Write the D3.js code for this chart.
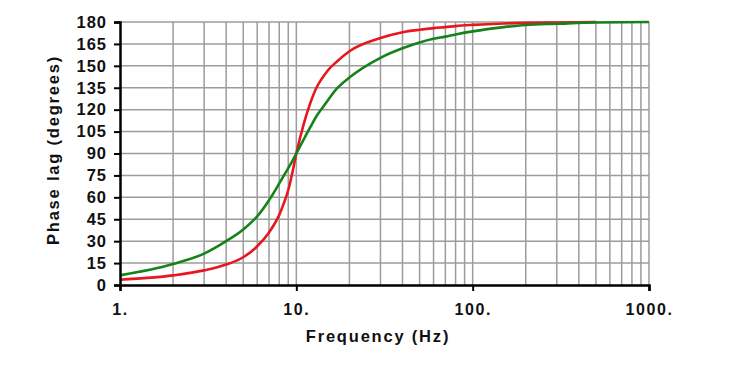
<!DOCTYPE html>
<html>
<head>
<meta charset="utf-8">
<script src="https://cdn.jsdelivr.net/npm/d3@7"></script>
<style>
    body { margin: 0; background: #fff; }
    text { font-family: "Liberation Sans", Arial, sans-serif; font-weight: bold; }
</style>
</head>
<body>
<div id="chart"></div>
<script>
// values (frequency in Hz, phase lag in degrees)
const freqs = [1, 2, 3, 4, 5, 6, 7, 8, 8.5, 9, 9.5, 10, 11, 12, 13, 14, 15, 17, 20, 30, 40, 50, 60, 70, 80, 100, 150, 200, 300, 500, 1000];
const redLag = [3.6, 6.6, 10, 14, 19, 26.5, 36, 48, 56, 65, 77, 90, 110, 124.5, 135, 141.5, 146.5, 153, 160, 169, 173, 174.7, 175.8, 176.5, 177.2, 178, 179, 179.4, 179.7, 180, null];
const greenLag = [6.6, 14.4, 21.5, 30, 38, 47, 58, 69.5, 75, 80, 85, 90, 99.5, 108, 115.5, 121, 126, 134.5, 142, 155.5, 162, 166, 168.5, 170, 171.5, 173.6, 176.5, 178, 178.8, 179.7, 180];
const yTicks = [0, 15, 30, 45, 60, 75, 90, 105, 120, 135, 150, 165, 180];
const xTicks = [1, 10, 100, 1000];
const xTickLabels = ['1.', '10.', '100.', '1000.'];

const width = 750;
const height = 388;
const margin = { left: 120, right: 101, top: 22, bottom: 103 };

const svg = d3.select('#chart').append('svg')
    .attr('width', width)
    .attr('height', height);

const x = d3.scaleLog()
    .domain([1, 1000])
    .range([margin.left, width - margin.right]);
const y = d3.scaleLinear()
    .domain([0, 180])
    .range([height - margin.bottom, margin.top]);

// minor gridlines, 1..9 in each decade
const gridX = [];
for (let d = 1; d < 1000; d *= 10) {
    for (let k = 2; k <= 9; k++) gridX.push(d * k);
}
gridX.push(10, 100, 1000);

const grid = svg.append('g').attr('stroke', '#9c9c9c').attr('stroke-width', 1.5);
grid.selectAll('.gx')
    .data(gridX)
    .enter()
    .append('line')
    .attr('x1', (d) => x(d))
    .attr('x2', (d) => x(d))
    .attr('y1', y(0))
    .attr('y2', y(180));
grid.selectAll('.gy')
    .data(yTicks.slice(1))
    .enter()
    .append('line')
    .attr('x1', x(1))
    .attr('x2', x(1000))
    .attr('y1', (d) => y(d))
    .attr('y2', (d) => y(d));

// curves
const line = (vals) => d3.line()
    .defined((d, i) => vals[i] !== null)
    .x((d) => x(d))
    .y((d, i) => y(vals[i]))
    .curve(d3.curveMonotoneX)(freqs);

svg.append('path')
    .attr('d', line(redLag))
    .attr('fill', 'none')
    .attr('stroke', '#e8161e')
    .attr('stroke-width', 2.6);
svg.append('path')
    .attr('d', line(greenLag))
    .attr('fill', 'none')
    .attr('stroke', '#16821a')
    .attr('stroke-width', 2.6);

// axes
svg.append('g')
    .attr('transform', `translate(${margin.left},0)`)
    .call(d3.axisLeft(y).tickValues(yTicks).tickSize(6).tickPadding(7).tickFormat(d3.format('d')))
    .call((g) => g.select('.domain').attr('stroke', '#000').attr('stroke-width', 2.5))
    .call((g) => g.selectAll('.tick line').attr('stroke', '#000').attr('stroke-width', 2))
    .call((g) => g.selectAll('.tick text')
        .attr('fill', '#111')
        .attr('font-size', '16.5px')
        .attr('letter-spacing', '1px')
        .attr('font-family', '"Liberation Sans", Arial, sans-serif')
        .attr('font-weight', 'bold'));

svg.append('g')
    .attr('transform', `translate(0,${height - margin.bottom})`)
    .call(d3.axisBottom(x).tickValues(xTicks).tickSize(6).tickPadding(13)
        .tickFormat((d, i) => xTickLabels[i]))
    .call((g) => g.select('.domain').attr('stroke', '#000').attr('stroke-width', 2.5))
    .call((g) => g.selectAll('.tick line').attr('stroke', '#000').attr('stroke-width', 2))
    .call((g) => g.selectAll('.tick text')
        .attr('fill', '#111')
        .attr('font-size', '16px')
        .attr('letter-spacing', '1.6px')
        .attr('font-family', '"Liberation Sans", Arial, sans-serif')
        .attr('font-weight', 'bold'));

// titles
svg.append('text')
    .attr('x', 378)
    .attr('y', 342)
    .attr('text-anchor', 'middle')
    .attr('font-size', '16.5px')
    .attr('letter-spacing', '1.8px')
    .attr('fill', '#111')
    .text('Frequency (Hz)');

svg.append('text')
    .attr('transform', 'translate(59,150) rotate(-90)')
    .attr('text-anchor', 'middle')
    .attr('font-size', '16.5px')
    .attr('letter-spacing', '1.8px')
    .attr('fill', '#111')
    .text('Phase lag (degrees)');
</script>
</body>
</html>
